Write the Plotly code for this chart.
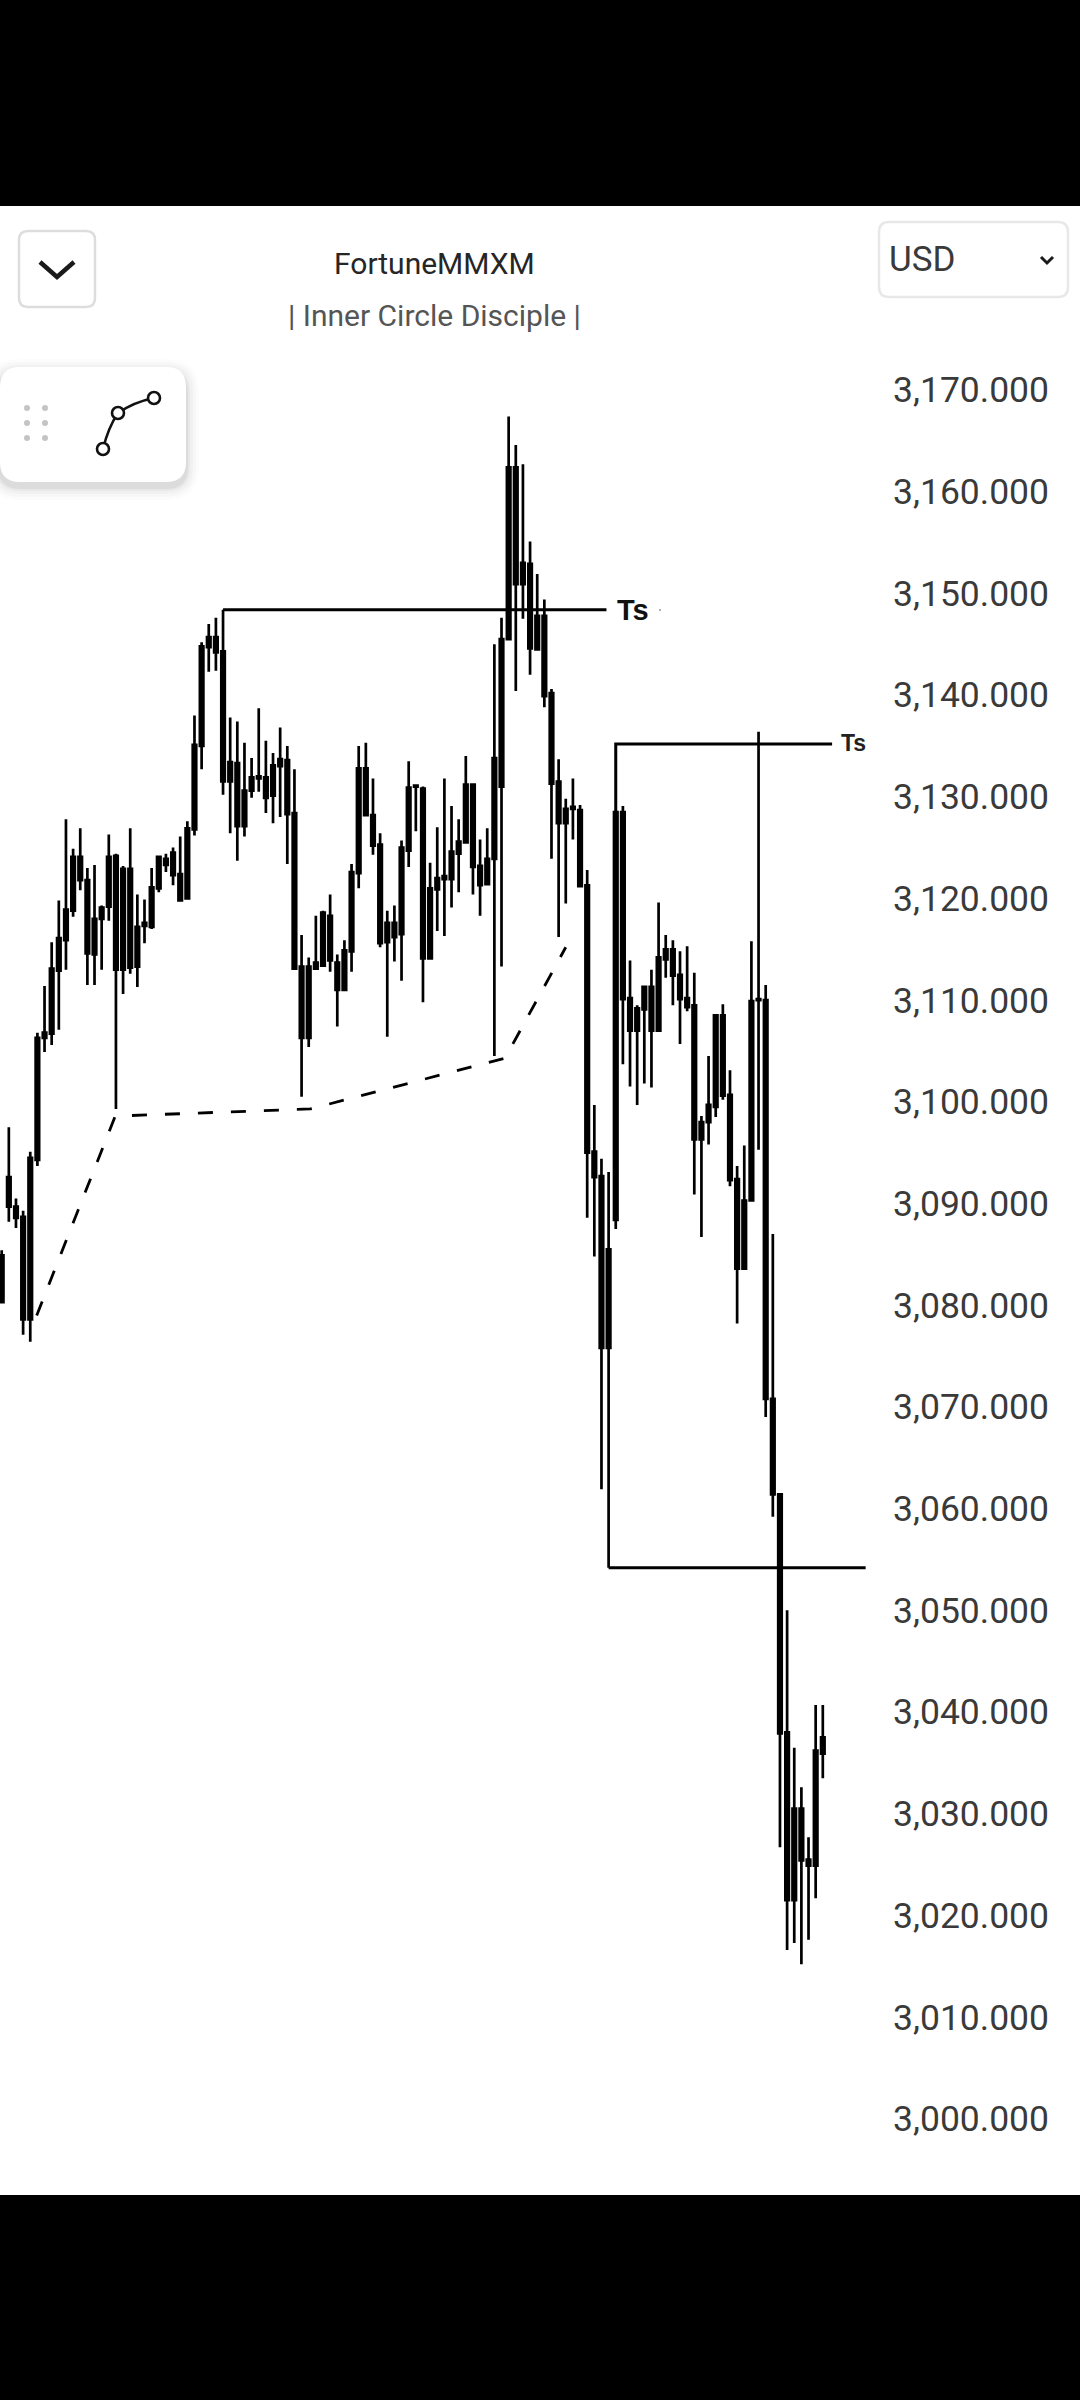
import plotly.graph_objects as go

candle_index = list(range(116))
high_prices = [3085.4,3097.5,3090.5,3089.3,3095.1,3106.8,3111.4,3115.7,3119.8,3127.8,3124.9,3126.9,3123.0,3123.3,3119.3,3126.3,
 3124.4,3123.2,3126.9,3120.4,3119.9,3123.0,3124.2,3124.4,3125.0,3126.1,3127.6,3138.0,3145.2,3147.0,3147.6,3148.4,
 3137.8,3137.4,3135.3,3133.8,3138.7,3135.5,3134.3,3136.8,3135.0,3132.7,3116.4,3114.2,3118.3,3118.8,3120.4,3114.5,
 3115.9,3123.4,3135.0,3135.3,3131.8,3126.4,3118.8,3119.3,3125.7,3133.5,3131.2,3131.0,3123.5,3127.0,3131.8,3129.1,
 3127.8,3134.0,3131.2,3125.8,3126.9,3145.0,3147.6,3167.4,3164.6,3162.7,3155.1,3151.9,3149.4,3140.6,3133.7,3129.8,
 3131.8,3129.2,3122.8,3099.7,3094.4,3093.1,3128.5,3129.1,3113.9,3109.5,3111.4,3113.0,3119.6,3116.4,3115.9,3114.8,
 3115.3,3112.7,3098.6,3104.5,3108.5,3109.6,3103.1,3093.7,3095.7,3115.8,3136.4,3111.5,3087.0,3061.4,3050.0,3036.5,
 3032.6,3027.7,3040.7,3040.7]
low_prices = [3080.3,3088.2,3087.6,3077.1,3076.4,3093.7,3104.9,3105.6,3107.1,3113.0,3118.2,3120.8,3111.5,3111.5,3113.0,3117.8,
 3099.3,3110.6,3112.6,3111.3,3115.6,3117.0,3120.6,3122.6,3121.3,3119.7,3120.0,3126.2,3132.7,3142.3,3142.4,3130.2,
 3126.4,3123.7,3126.1,3129.9,3130.5,3128.4,3127.4,3128.0,3123.4,3113.1,3100.5,3105.4,3113.1,3113.4,3112.8,3107.4,
 3111.0,3112.8,3121.0,3128.2,3124.3,3115.2,3106.4,3113.8,3111.9,3123.1,3126.6,3109.8,3114.1,3116.8,3116.3,3119.1,
 3120.6,3125.5,3120.4,3118.3,3121.4,3104.5,3113.3,3145.5,3140.4,3147.5,3142.0,3144.5,3138.8,3123.9,3116.2,3119.5,
 3125.8,3121.2,3088.6,3084.8,3061.9,3054.2,3087.5,3103.7,3101.5,3099.7,3101.8,3101.4,3107.0,3112.2,3109.5,3105.7,
 3108.9,3090.9,3086.7,3095.8,3098.5,3100.2,3091.7,3078.2,3083.6,3090.3,3095.3,3069.0,3059.2,3026.7,3016.6,3017.3,
 3015.2,3017.6,3021.7,3033.5]
close_prices = [3084.9,3092.6,3089.7,3088.7,3094.5,3106.3,3106.8,3113.1,3116.1,3118.9,3124.1,3124.1,3121.8,3118.0,3119.1,3124.1,
 3124.2,3122.9,3122.9,3117.2,3117.6,3121.1,3124.1,3123.9,3124.5,3122.4,3126.9,3135.1,3144.8,3145.7,3145.7,3144.3,
 3133.4,3133.3,3130.6,3131.9,3132.0,3131.9,3133.1,3133.7,3133.6,3128.4,3113.3,3113.3,3113.7,3118.6,3118.3,3113.7,
 3114.9,3122.6,3132.8,3132.8,3128.2,3125.3,3117.6,3117.6,3125.0,3130.9,3131.1,3130.8,3121.0,3122.0,3122.2,3124.6,
 3125.6,3131.2,3131.2,3123.2,3123.9,3133.8,3145.5,3162.4,3162.4,3153.0,3152.9,3147.8,3147.8,3140.2,3131.5,3128.8,
 3129.0,3128.7,3121.3,3095.1,3092.7,3085.5,3128.5,3128.5,3110.2,3109.2,3111.3,3111.3,3114.2,3115.0,3115.0,3112.5,
 3110.2,3109.5,3098.0,3099.7,3108.5,3108.5,3100.7,3092.4,3090.3,3109.9,3110.1,3110.0,3070.8,3061.4,3038.0,3030.5,
 3030.5,3025.5,3036.2,3037.5]
open_prices = [3080.3,3089.7,3088.6,3078.6,3078.6,3094.3,3106.3,3106.7,3112.9,3115.9,3118.8,3121.8,3114.6,3114.5,3118.0,3119.2,
 3113.0,3113.0,3113.2,3113.3,3117.3,3117.2,3121.0,3123.3,3122.3,3119.8,3120.0,3126.8,3135.0,3144.7,3144.2,3131.5,
 3131.5,3127.1,3127.1,3130.6,3131.8,3129.9,3130.1,3133.0,3128.3,3113.1,3106.3,3106.3,3113.1,3113.4,3113.9,3111.0,
 3111.0,3114.8,3122.5,3128.2,3125.2,3115.6,3115.7,3116.2,3116.5,3124.7,3131.0,3114.1,3114.1,3120.9,3121.9,3121.9,
 3124.4,3125.5,3123.1,3121.3,3121.4,3123.9,3131.0,3145.5,3150.9,3150.9,3144.6,3144.5,3139.9,3131.3,3127.4,3127.4,
 3128.8,3121.2,3095.0,3092.6,3075.8,3075.8,3088.4,3110.1,3107.0,3107.0,3109.1,3107.0,3107.0,3114.0,3112.4,3110.1,
 3109.3,3096.3,3096.3,3098.0,3099.5,3100.6,3092.3,3083.6,3083.6,3090.3,3110.0,3070.8,3061.4,3037.9,3021.5,3021.5,
 3025.4,3024.9,3024.9,3035.9]

tick_values = [3170,3160,3150,3140,3130,3120,3110,3100,3090,3080,3070,3060,3050,3040,3030,3020,3010,3000]

trend_index = [4.9, 15.9, 43.2, 70.5, 79.0]
trend_price = [3079.0, 3098.6, 3099.3, 3104.3, 3115.2]

ts_upper_index = [31, 84.7]
ts_upper_price = [3148.4, 3148.4]
ts_middle_index = [86, 86, 116.3]
ts_middle_price = [3128.5, 3135.2, 3135.2]
ts_lower_index = [85, 121]
ts_lower_price = [3054.2, 3054.2]

W, H = 1080, 2400
BLACK = "#000000"
fx = lambda x: x / W
fy = lambda y: 1 - y / H


def rrect(x0, y0, x1, y1, r, fill=None, line=None, lw=0, opacity=1.0):
    p = (f"M{fx(x0+r)},{fy(y0)} L{fx(x1-r)},{fy(y0)} Q{fx(x1)},{fy(y0)} {fx(x1)},{fy(y0+r)} "
         f"L{fx(x1)},{fy(y1-r)} Q{fx(x1)},{fy(y1)} {fx(x1-r)},{fy(y1)} L{fx(x0+r)},{fy(y1)} "
         f"Q{fx(x0)},{fy(y1)} {fx(x0)},{fy(y1-r)} L{fx(x0)},{fy(y0+r)} Q{fx(x0)},{fy(y0)} {fx(x0+r)},{fy(y0)} Z")
    return dict(type="path", xref="paper", yref="paper", path=p, fillcolor=fill or "rgba(0,0,0,0)",
                line=dict(color=line or "rgba(0,0,0,0)", width=lw), opacity=opacity, layer="above")


def polyline(points, color, width):
    p = "M" + " L".join(f"{fx(x)},{fy(y)}" for x, y in points)
    return dict(type="path", xref="paper", yref="paper", path=p, line=dict(color=color, width=width), layer="above")


def circle(cx, cy, r, fill, line=None, lw=0):
    return dict(type="circle", xref="paper", yref="paper", x0=fx(cx-r), x1=fx(cx+r), y0=fy(cy+r), y1=fy(cy-r),
                fillcolor=fill, line=dict(color=line or "rgba(0,0,0,0)", width=lw), layer="above")


fig = go.Figure()
fig.add_trace(go.Candlestick(
    x=candle_index, open=open_prices, high=high_prices, low=low_prices, close=close_prices,
    increasing=dict(line=dict(color=BLACK, width=2.7), fillcolor=BLACK),
    decreasing=dict(line=dict(color=BLACK, width=2.7), fillcolor=BLACK),
    whiskerwidth=0, showlegend=False, hoverinfo="skip"))
for xs, ys in [(ts_upper_index, ts_upper_price), (ts_middle_index, ts_middle_price), (ts_lower_index, ts_lower_price)]:
    fig.add_trace(go.Scatter(x=xs, y=ys, mode="lines", line=dict(color=BLACK, width=3), showlegend=False, hoverinfo="skip"))
fig.add_trace(go.Scatter(x=trend_index, y=trend_price, mode="lines",
                         line=dict(color=BLACK, width=2.8, dash="15px,18px"), showlegend=False, hoverinfo="skip"))

shapes = [
    dict(type="rect", xref="paper", yref="paper", x0=0, x1=1, y0=fy(206), y1=1, fillcolor=BLACK, line_width=0, layer="above"),
    dict(type="rect", xref="paper", yref="paper", x0=0, x1=1, y0=0, y1=fy(2195), fillcolor=BLACK, line_width=0, layer="above"),
    rrect(19, 231, 95, 307, 9, fill="#ffffff", line="#dddddd", lw=2.5),
    polyline([(40, 262), (57, 277), (74, 262)], "#1a1a1a", 4.5),
    rrect(879, 222, 1068, 297, 10, fill="#ffffff", line="#e8e8e8", lw=2.5),
    polyline([(1041, 257), (1047, 263), (1053, 257)], "#1a1a1a", 3),
]
for g, a in [(13, 0.012), (10, 0.018), (7, 0.025), (4, 0.035), (2, 0.05)]:
    shapes.append(rrect(-g, 367 - g + 5, 186 + g, 482 + g + 5, 20 + g, fill="#000000", opacity=a))
shapes.append(rrect(0, 367, 186, 482, 20, fill="#ffffff"))
for dx in (27, 45):
    for dy in (408, 423, 438):
        shapes.append(circle(dx, dy, 3, "#c4c4c4"))
shapes.append(dict(type="path", xref="paper", yref="paper", layer="above", line=dict(color="#111111", width=2.5),
                   path=f"M{fx(103)},{fy(449)} Q{fx(108)},{fy(428)} {fx(118)},{fy(413)} Q{fx(134)},{fy(402)} {fx(154)},{fy(398)}"))
for cx, cy in [(103, 449), (118, 413), (154, 398)]:
    shapes.append(circle(cx, cy, 6, "#ffffff", "#111111", 2.6))
shapes.append(circle(660, 610, 1, "#999999"))


def label(text, x, y, size, color, xanchor="center", family="Roboto", bold=False):
    return dict(text=f"<b>{text}</b>" if bold else text, x=fx(x), y=fy(y), xref="paper", yref="paper", showarrow=False,
                xanchor=xanchor, yanchor="middle", font=dict(family=family, size=size, color=color))


annotations = [
    label("FortuneMMXM", 434, 264, 30, "#262626"),
    label("| Inner Circle Disciple |", 434, 316, 30, "#555555"),
    label("USD", 887, 259, 35, "#3a3a3a", xanchor="left"),
    label("Ts", 633, 610, 29, "#111111", family="Liberation Sans", bold=True),
    label("Ts", 853, 743, 23, "#222222", family="Liberation Sans", bold=True),
]

fig.update_layout(
    width=W, height=H, margin=dict(l=0, r=0, t=0, b=0), paper_bgcolor="#ffffff", plot_bgcolor="#ffffff",
    shapes=shapes, annotations=annotations, boxgap=0.3, hovermode=False,
    xaxis=dict(domain=[0, 888 / W], range=[-0.238, 124.13], visible=False, rangeslider=dict(visible=False), showgrid=False),
    yaxis=dict(domain=[fy(2195), fy(206)], range=[2992.51, 3188.09], side="right", tickmode="array", tickvals=tick_values,
               tickformat=",.3f", showgrid=False, zeroline=False, showline=False, ticks="", ticklabelstandoff=4,
               tickfont=dict(family="Roboto", size=35.5, color="#3a3a3a")),
)

fig.write_html("out.html", config=dict(displayModeBar=False),
               post_script="document.body.style.margin='0';document.documentElement.style.background='#000';")
